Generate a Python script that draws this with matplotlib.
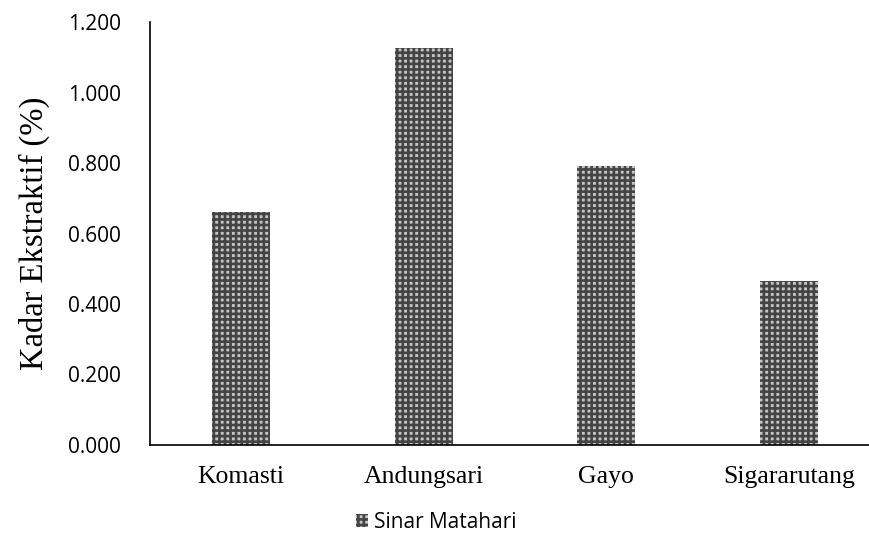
import matplotlib.pyplot as plt
from matplotlib.patches import Patch
from matplotlib.ticker import FuncFormatter

# kadar ekstraktif per varietas, pengeringan sinar matahari
varietas = ["Komasti", "Andungsari", "Gayo", "Sigararutang"]
kadar = [0.661, 1.126, 0.791, 0.465]
seri = "Sinar Matahari"
y_ticks = [0.0, 0.2, 0.4, 0.6, 0.8, 1.0, 1.2]

plt.rcParams['hatch.linewidth'] = 1.9
face = "#c4c4c4"
edge = "#444444"

fig = plt.figure(figsize=(8.69, 5.4), dpi=100)
ax = fig.add_axes([0.1726, 0.176, 0.84, 0.783])

x = range(len(varietas))
ax.bar(x, kadar, width=0.32, color=face, edgecolor=edge, linewidth=0,
       hatch="+++", zorder=2)

ax.set_xlim(-0.5, 3.5)
ax.set_ylim(0, 1.2)
ax.set_yticks(y_ticks)
# format angka gaya Indonesia: 1.200 = 1,2
ax.yaxis.set_major_formatter(FuncFormatter(lambda v, p: f"{v:.3f}"))
ax.set_xticks(list(x))
ax.set_xticklabels(varietas, family="Liberation Serif", fontsize=18.5)
for lbl in ax.get_yticklabels():
    lbl.set_family("Open Sans")
    lbl.set_fontsize(15)
ax.tick_params(axis="both", length=0, colors="black")
ax.tick_params(axis="x", pad=15)
ax.tick_params(axis="y", pad=21)

for s in ["top", "right"]:
    ax.spines[s].set_visible(False)
for s in ["left", "bottom"]:
    ax.spines[s].set_linewidth(1.2)
    ax.spines[s].set_color("black")

ax.set_ylabel("Kadar Ekstraktif (%)", family="Liberation Serif", fontsize=23.5)
ax.yaxis.set_label_coords(-0.137, 0.5)

handle = Patch(facecolor=face, edgecolor=edge, linewidth=0, hatch="+++")
fig.legend([handle], [seri], loc="center", bbox_to_anchor=(0.502, 0.033),
           frameon=False, prop={"family": "Open Sans", "size": 15},
           handlelength=0.6, handleheight=0.6, handletextpad=0.3)

fig.savefig("out.png", dpi=100)
